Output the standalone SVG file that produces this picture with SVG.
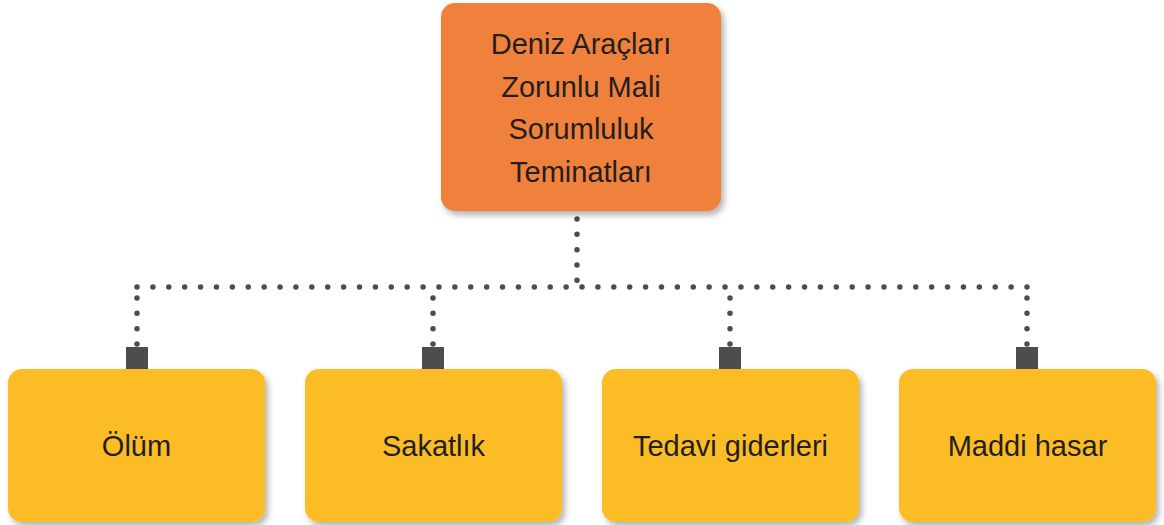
<svg xmlns="http://www.w3.org/2000/svg" width="1164" height="525" viewBox="0 0 1164 525">
<defs>
<filter id="sh" x="-10%" y="-10%" width="125%" height="130%">
<feDropShadow dx="3" dy="4" stdDeviation="3" flood-color="#000" flood-opacity="0.3"/>
</filter>
<style>
.top{fill:#f0813e;filter:url(#sh)}
.leaf{fill:#fcbc26;filter:url(#sh)}
.t{font-family:"Liberation Sans",Arial,sans-serif;font-size:29px;fill:#231f20;text-anchor:middle}
.dot{fill:none;stroke:#4d4d4f;stroke-width:5.5;stroke-linecap:round;stroke-dasharray:0 15.893}
.vdot{fill:none;stroke:#4d4d4f;stroke-width:5.5;stroke-linecap:round;stroke-dasharray:0 15.33}
.sq{fill:#4d4d4f}
</style>
</defs>
<rect width="1164" height="525" fill="#fff"/>
<g id="connectors">
<path class="vdot" d="M577 219 V281"/>
<path class="dot" d="M137 287 H1027.1"/>
<path class="vdot" d="M137 298 V344"/>
<path class="vdot" d="M433 298 V344"/>
<path class="vdot" d="M730 298 V344"/>
<path class="vdot" d="M1027 298 V344"/>
<rect class="sq" x="126" y="347" width="22" height="22"/>
<rect class="sq" x="422" y="347" width="22" height="22"/>
<rect class="sq" x="719" y="347" width="22" height="22"/>
<rect class="sq" x="1016" y="347" width="22" height="22"/>
</g>
<g id="root">
<rect class="top" x="441" y="3" width="280" height="208" rx="14"/>
<text class="t" x="581" y="54">Deniz Araçları</text>
<text class="t" x="581" y="97">Zorunlu Mali</text>
<text class="t" x="581" y="139">Sorumluluk</text>
<text class="t" x="581" y="182">Teminatları</text>
</g>
<g id="n1">
<rect class="leaf" x="8" y="369" width="257" height="153" rx="14"/>
<text class="t" x="136.5" y="456">Ölüm</text>
</g>
<g id="n2">
<rect class="leaf" x="305" y="369" width="257" height="153" rx="14"/>
<text class="t" x="433.5" y="456">Sakatlık</text>
</g>
<g id="n3">
<rect class="leaf" x="602" y="369" width="257" height="153" rx="14"/>
<text class="t" x="730.5" y="456">Tedavi giderleri</text>
</g>
<g id="n4">
<rect class="leaf" x="899" y="369" width="257" height="153" rx="14"/>
<text class="t" x="1027.5" y="456">Maddi hasar</text>
</g>
</svg>
